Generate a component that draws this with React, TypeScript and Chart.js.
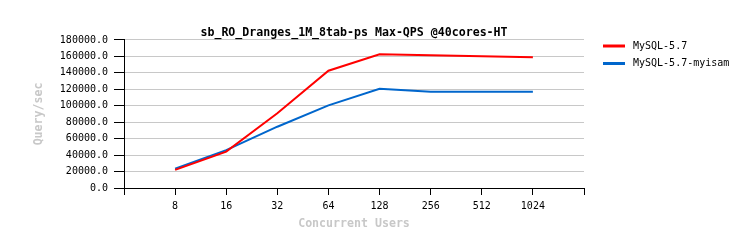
import React, { useEffect, useRef } from "react";
import { Chart, registerables } from "chart.js";

Chart.register(...registerables);

const titleText = "sb_RO_Dranges_1M_8tab-ps Max-QPS @40cores-HT";
const categories = ["8", "16", "32", "64", "128", "256", "512", "1024"];
const seriesNames = ["MySQL-5.7", "MySQL-5.7-myisam"];
const mysql57 = [22000, 44200, 90800, 142600, 162600, 161400, 160200, 159000];
const mysql57myisam = [23500, 46000, 74500, 100500, 120600, 117100, 117000, 116900];
const seriesColors = ["#ff0000", "#0066cc"];
const yTicksMin = 0;
const yTicksMax = 180000;
const yTicksStep = 20000;

const FONT = "'DejaVu Sans Mono', monospace";

const legendPlugin = {
  id: "sideLegend",
  afterDraw(chart: any) {
    const ctx = chart.ctx;
    ctx.save();
    chart.data.datasets.forEach((ds: any, i: number) => {
      const y = 46 + i * 17.5;
      ctx.strokeStyle = ds.borderColor;
      ctx.lineWidth = 3;
      ctx.beginPath();
      ctx.moveTo(603, y);
      ctx.lineTo(625, y);
      ctx.stroke();
      ctx.fillStyle = "#000";
      ctx.font = `10px ${FONT}`;
      ctx.textBaseline = "middle";
      ctx.textAlign = "left";
      ctx.fillText(ds.label, 633, y);
    });
    ctx.restore();
  },
};

export default function App() {
  const ref = useRef<HTMLCanvasElement | null>(null);
  useEffect(() => {
    if (!ref.current) return;
    const labels = ["", ...categories, ""];
    const pad = (arr: number[]) => [null, ...arr, null];
    const chart = new Chart(ref.current, {
      type: "line",
      data: {
        labels,
        datasets: [
          {
            label: seriesNames[0],
            data: pad(mysql57) as any,
            borderColor: seriesColors[0],
            backgroundColor: seriesColors[0],
            borderWidth: 2,
            pointRadius: 0,
            tension: 0,
          },
          {
            label: seriesNames[1],
            data: pad(mysql57myisam) as any,
            borderColor: seriesColors[1],
            backgroundColor: seriesColors[1],
            borderWidth: 2,
            pointRadius: 0,
            tension: 0,
          },
        ],
      },
      options: {
        responsive: false,
        animation: false,
        layout: { padding: { left: 0, right: 163, top: 0, bottom: 0 } },
        plugins: {
          legend: { display: false },
          tooltip: { enabled: false },
          title: {
            display: true,
            text: titleText,
            fullSize: false,
            color: "#000",
            font: { family: FONT, size: 11.6, weight: "bold" },
            padding: { top: 26, bottom: 0 },
          },
        },
        scales: {
          x: {
            type: "category",
            offset: false,
            afterFit: (s: any) => {
              s.height = 60;
            },
            grid: {
              display: true,
              drawOnChartArea: false,
              drawTicks: true,
              tickLength: 7,
              tickColor: "#000",
            },
            border: { display: true, color: "#000", width: 1 },
            ticks: {
              autoSkip: false,
              maxRotation: 0,
              padding: 5,
              color: "#000",
              font: { family: FONT, size: 10 },
            },
            title: {
              display: true,
              text: "Concurrent Users",
              color: "#c8c8c8",
              font: { family: FONT, size: 11.6, weight: "bold" },
              padding: { top: 0, bottom: 17.5 },
            },
          },
          y: {
            min: yTicksMin,
            max: yTicksMax,
            afterFit: (s: any) => {
              s.width = 124;
            },
            grid: {
              color: (c: any) => (c.tick && c.tick.value === 0 ? "#000" : "#c8c8c8"),
              drawTicks: true,
              tickLength: 10,
              tickColor: "#000",
            },
            border: { display: true, color: "#000", width: 1 },
            ticks: {
              stepSize: yTicksStep,
              padding: 6,
              color: "#000",
              font: { family: FONT, size: 10 },
              callback: (v: any) => Number(v).toFixed(1),
            },
            title: {
              display: true,
              text: "Query/sec",
              color: "#c8c8c8",
              font: { family: FONT, size: 11.6, weight: "bold" },
              padding: { top: 32, bottom: 0 },
            },
          },
        },
      },
      plugins: [legendPlugin],
    });
    return () => chart.destroy();
  }, []);
  return (
    <div style={{ position: "absolute", left: 0, top: 0, width: 747, height: 248, background: "#fff" }}>
      <canvas ref={ref} width={747} height={248} style={{ display: "block" }} />
    </div>
  );
}
